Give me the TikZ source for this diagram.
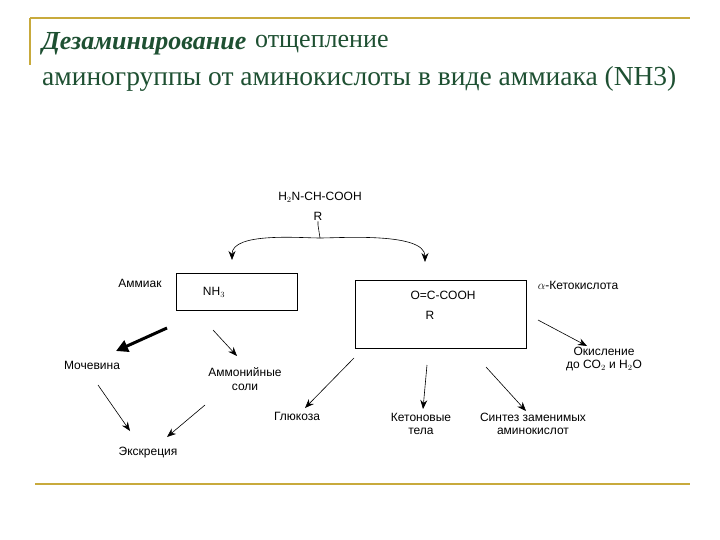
\documentclass[tikz,border=0pt]{standalone}
\usepackage{fontspec}
\setmainfont{Liberation Serif}
\newfontfamily\lab{Liberation Sans}
\usetikzlibrary{arrows.meta}
\definecolor{gold}{RGB}{200,170,60}
\definecolor{titlegreen}{RGB}{30,80,50}
\tikzset{
  lbl/.style = {font=\lab\fontsize{12}{13.5}\selectfont, align=center, inner sep=1pt},
  box/.style = {draw, line width=0.8pt},
  arr/.style = {-{Stealth[length=9pt, width=7pt]}, line width=0.6pt},
  ttl/.style = {anchor=west, text=titlegreen, inner sep=0pt},
}
\begin{document}
\begin{tikzpicture}[x=1pt, y=-1pt]
  \useasboundingbox (0,0) rectangle (720,540);
  % frame lines
  \draw[gold, line width=1.2pt] (30,18) -- (690,18);
  \draw[gold, line width=1.2pt] (30,18) -- (30,65);
  \draw[gold, line width=1.2pt] (35,484) -- (690,484);
  % title
  \node[ttl, font=\fontsize{26}{29}\selectfont\itshape\bfseries] at (42,44) (t1) {Дезаминирование};
  \node[ttl, font=\fontsize{26}{29}\selectfont] at (255,44) (t2) {отщепление};
  \node[ttl, font=\fontsize{27.5}{30}\selectfont] at (42,79) (t3) {аминогруппы от аминокислоты в виде аммиака (NH3)};

  % nodes
  \node[lbl] at (320,197) (acid) {H$_2$N-CH-COOH};
  \node[lbl] at (318,216) (acidR) {R};
  \coordinate (fork) at (320,238);
  \node[box, minimum width=121pt, minimum height=37pt] at (236.5,291.5) (nh3box) {};
  \node[lbl] at (214,292) (nh3) {NH$_3$};
  \node[lbl] at (140,283) (ammiak) {Аммиак};
  \node[box, minimum width=171pt, minimum height=68pt] at (440.5,314) (ketobox) {};
  \node[lbl] at (443,295) (keto) {O=C-COOH};
  \node[lbl] at (430,315) (ketoR) {R};
  \node[lbl] at (578,285) (ketoname) {$\alpha$-Кетокислота};
  \node[lbl] at (92,365) (urea) {Мочевина};
  \node[lbl] at (245,379) (salts) {Аммонийные\\соли};
  \node[lbl] at (148,453) (excr) {Экскреция};
  \node[lbl] at (297,416) (gluc) {Глюкоза};
  \node[lbl] at (421,424) (keton) {Кетоновые\\тела};
  \node[lbl] at (533,424) (synth) {Синтез заменимых\\аминокислот};
  \node[lbl] at (604,359) (oxid) {Окисление\\до CO$_2$ и H$_2$O};

  % connectors
  \draw[line width=0.6pt] (acidR) -- ++(0,9) coordinate (a1) -- (fork);
  \draw[arr] (fork) .. controls (300,238) and (232,232) .. (232,260);
  \draw[arr] (fork) .. controls (340,238) and (425,232) .. (425,262);
  \draw[-{Triangle[length=12pt, width=12pt]}, line width=3pt] (167,328) -- (116,351);
  \draw[arr] (213,330) -- (237,356);
  \draw[arr] (98,385) -- (130,431);
  \draw[arr] (205,405) -- (167,437);
  \draw[arr] (354,358) -- (305,408);
  \draw[arr] (427,365) -- (423,409);
  \draw[arr] (486,367) -- (526,411);
  \draw[arr] (538,320) -- (587,346);
\end{tikzpicture}
\end{document}
